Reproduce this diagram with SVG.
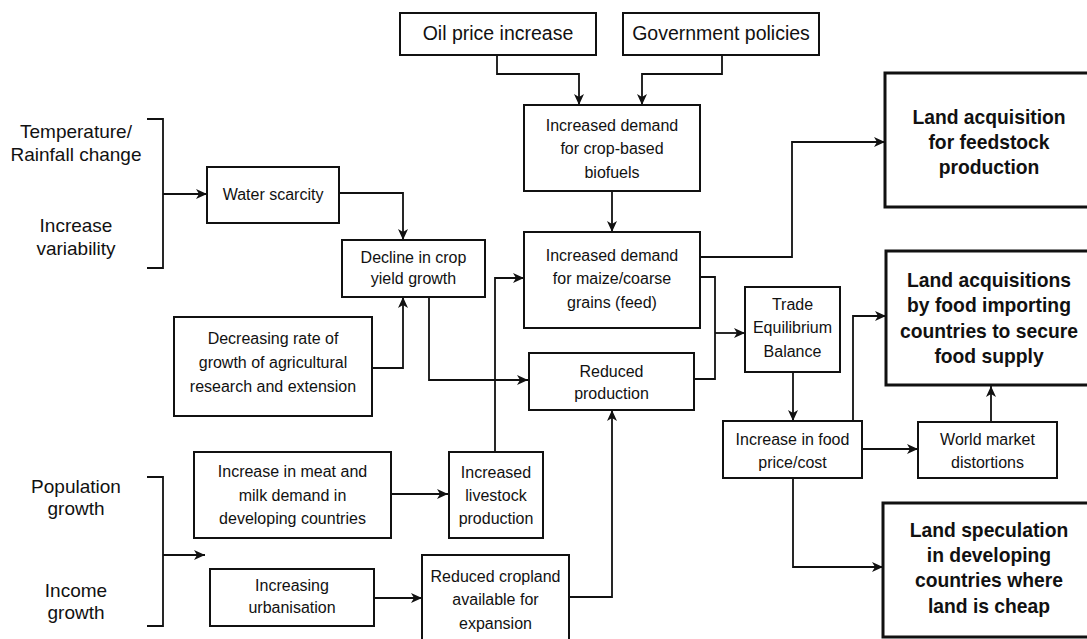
<svg xmlns="http://www.w3.org/2000/svg" width="1087" height="639" viewBox="0 0 1087 639">
<defs>
<marker id="ah" markerUnits="userSpaceOnUse" markerWidth="12" markerHeight="10" refX="11" refY="5" orient="auto">
<path d="M0,0 L11,5 L0,10 L3,5 z" fill="#111"/>
</marker>
<style>
.box{fill:#fff;stroke:#111;stroke-width:2}
.bbox{fill:#fff;stroke:#111;stroke-width:3}
.t{font-family:"Liberation Sans",Arial,sans-serif;font-size:16px;fill:#111;text-anchor:middle}
.tl{font-family:"Liberation Sans",Arial,sans-serif;font-size:19px;fill:#111;text-anchor:middle}
.tt{font-family:"Liberation Sans",Arial,sans-serif;font-size:19.5px;fill:#111;text-anchor:middle}
.tb{font-family:"Liberation Sans",Arial,sans-serif;font-size:19.3px;font-weight:bold;fill:#111;text-anchor:middle}
.c{fill:none;stroke:#111;stroke-width:1.8}
.ca{fill:none;stroke:#111;stroke-width:1.8;marker-end:url(#ah)}
</style>
</defs>
<rect width="1087" height="639" fill="#fff"/>

<g id="labels-climate">
<text class="tl" x="76" y="137.5">Temperature/</text>
<text class="tl" x="76" y="160.5">Rainfall change</text>
<text class="tl" x="76" y="231.5">Increase</text>
<text class="tl" x="76" y="254.5">variability</text>
</g>
<g id="labels-socio">
<text class="tl" x="76" y="492.5">Population</text>
<text class="tl" x="76" y="514.5">growth</text>
<text class="tl" x="76" y="596.5">Income</text>
<text class="tl" x="76" y="618.5">growth</text>
</g>

<g id="connectors">
<path class="c" d="M147,119 H163 V268 H147"/>
<path class="ca" d="M163,194 H207"/>
<path class="c" d="M147,477 H163 V626 H147"/>
<path class="ca" d="M163,555 H205"/>
<path class="ca" d="M497,55 V74 H579 V105"/>
<path class="ca" d="M722,55 V74 H642 V105"/>
<path class="ca" d="M612,191 V232"/>
<path class="ca" d="M339,193 H403 V240"/>
<path class="ca" d="M372,368 H403 V297"/>
<path class="ca" d="M429,297 V380 H528"/>
<path class="ca" d="M495,452 V278 H524"/>
<path class="ca" d="M700,257 H792 V142 H885"/>
<path class="c" d="M700,277 H715 V379 H694"/>
<path class="ca" d="M715,333 H745"/>
<path class="ca" d="M793,372 V421"/>
<path class="ca" d="M853,421 V316 H886"/>
<path class="ca" d="M862,449 H918"/>
<path class="ca" d="M991,422 V386"/>
<path class="ca" d="M793,478 V567 H883"/>
<path class="ca" d="M391,494 H448"/>
<path class="ca" d="M374,598 H422"/>
<path class="ca" d="M569,597 H612 V410"/>
</g>

<g id="oil">
<rect class="box" x="400" y="13" width="196" height="42"/>
<text class="tt" x="498" y="40">Oil price increase</text>
</g>
<g id="gov">
<rect class="box" x="623" y="13" width="196" height="42"/>
<text class="tt" x="721" y="40">Government policies</text>
</g>
<g id="biofuels">
<rect class="box" x="524" y="105" width="176" height="86"/>
<text class="t" x="612" y="131">Increased demand</text>
<text class="t" x="612" y="154">for crop-based</text>
<text class="t" x="612" y="178">biofuels</text>
</g>
<g id="water">
<rect class="box" x="207" y="167" width="132" height="56"/>
<text class="t" x="273" y="199.5">Water scarcity</text>
</g>
<g id="decline">
<rect class="box" x="342" y="240" width="143" height="57"/>
<text class="t" x="413.5" y="262.5">Decline in crop</text>
<text class="t" x="413.5" y="284">yield growth</text>
</g>
<g id="maize">
<rect class="box" x="524" y="232" width="176" height="96"/>
<text class="t" x="612" y="260.5">Increased demand</text>
<text class="t" x="612" y="283.5">for maize/coarse</text>
<text class="t" x="612" y="307.5">grains (feed)</text>
</g>
<g id="feedstock">
<rect class="bbox" x="885" y="73" width="210" height="134"/>
<text class="tb" x="989" y="123.5">Land acquisition</text>
<text class="tb" x="989" y="148.5">for feedstock</text>
<text class="tb" x="989" y="173.5">production</text>
</g>
<g id="trade">
<rect class="box" x="745" y="287" width="95" height="85"/>
<text class="t" x="792.5" y="309.5">Trade</text>
<text class="t" x="792.5" y="332.5">Equilibrium</text>
<text class="t" x="792.5" y="356.5">Balance</text>
</g>
<g id="acquisitions">
<rect class="bbox" x="886" y="251" width="210" height="134"/>
<text class="tb" x="989" y="286.5">Land acquisitions</text>
<text class="tb" x="989" y="312">by food importing</text>
<text class="tb" x="989" y="337.5">countries to secure</text>
<text class="tb" x="989" y="362.5">food supply</text>
</g>
<g id="research">
<rect class="box" x="174" y="317" width="198" height="99"/>
<text class="t" x="273" y="343.5">Decreasing rate of</text>
<text class="t" x="273" y="367.5">growth of agricultural</text>
<text class="t" x="273" y="391.5">research and extension</text>
</g>
<g id="reduced">
<rect class="box" x="529" y="353" width="165" height="57"/>
<text class="t" x="611.5" y="376.5">Reduced</text>
<text class="t" x="611.5" y="398.5">production</text>
</g>
<g id="food">
<rect class="box" x="723" y="421" width="139" height="57"/>
<text class="t" x="792.5" y="444.5">Increase in food</text>
<text class="t" x="792.5" y="467.5">price/cost</text>
</g>
<g id="world">
<rect class="box" x="918" y="422" width="139" height="56"/>
<text class="t" x="987.5" y="444.5">World market</text>
<text class="t" x="987.5" y="467.5">distortions</text>
</g>
<g id="meat">
<rect class="box" x="194" y="452" width="197" height="86"/>
<text class="t" x="292.5" y="476.5">Increase in meat and</text>
<text class="t" x="292.5" y="500.5">milk demand in</text>
<text class="t" x="292.5" y="523.5">developing countries</text>
</g>
<g id="livestock">
<rect class="box" x="449" y="452" width="94" height="86"/>
<text class="t" x="496" y="477.5">Increased</text>
<text class="t" x="496" y="500.5">livestock</text>
<text class="t" x="496" y="523.5">production</text>
</g>
<g id="speculation">
<rect class="bbox" x="883" y="503" width="212" height="134"/>
<text class="tb" x="989" y="536.5">Land speculation</text>
<text class="tb" x="989" y="561.5">in developing</text>
<text class="tb" x="989" y="586.5">countries where</text>
<text class="tb" x="989" y="612.5">land is cheap</text>
</g>
<g id="urbanisation">
<rect class="box" x="210" y="569" width="164" height="57"/>
<text class="t" x="292" y="590.5">Increasing</text>
<text class="t" x="292" y="612.5">urbanisation</text>
</g>
<g id="cropland">
<rect class="box" x="422" y="555" width="147" height="95"/>
<text class="t" x="495.5" y="581.5">Reduced cropland</text>
<text class="t" x="495.5" y="604.5">available for</text>
<text class="t" x="495.5" y="628.5">expansion</text>
</g>
</svg>
